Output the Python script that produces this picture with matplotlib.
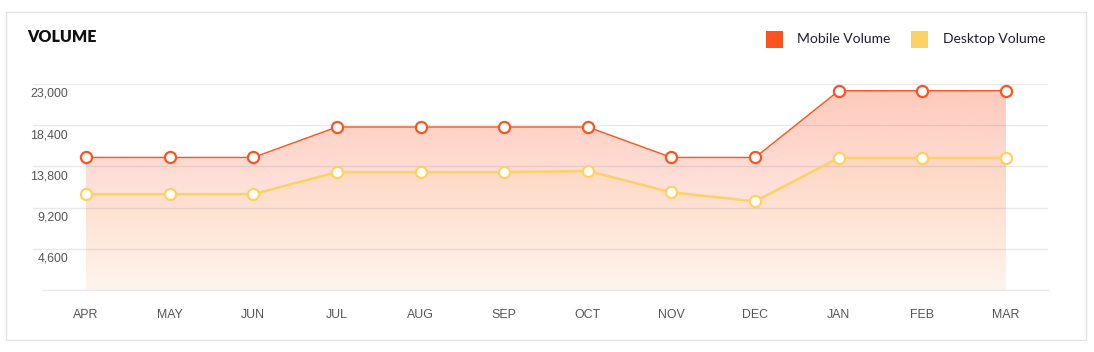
import numpy as np
import matplotlib
matplotlib.use("Agg")
import matplotlib.pyplot as plt
from matplotlib.patches import Rectangle
from matplotlib.transforms import ScaledTranslation

# data
months = ["APR", "MAY", "JUN", "JUL", "AUG", "SEP", "OCT", "NOV", "DEC", "JAN", "FEB", "MAR"]
mobile = [14800, 14800, 14800, 18200, 18200, 18200, 18200, 14800, 14800, 22250, 22250, 22250]
desktop = [10700, 10700, 10700, 13150, 13150, 13150, 13300, 10900, 9900, 14750, 14750, 14750]
yticks = [4600, 9200, 13800, 18400, 23000]

mobile_col = "#FC5420"
desktop_col = "#FDD264"

W, H = 1094, 352
fig = plt.figure(figsize=(W / 100, H / 100), dpi=100)
fig.patch.set_facecolor("white")

# card border
fig.patches.append(Rectangle((6 / W, (H - 340) / H), 1080 / W, 328 / H,
                             transform=fig.transFigure, facecolor="none",
                             edgecolor="#E4E4E8", lw=1))

# axes: x pixel 33..1048, y pixel 84 (23000) .. 290 (0)
ax = fig.add_axes([33 / W, (H - 290) / H, (1048 - 33) / W, (290 - 84) / H])
step = 83.64
x = np.arange(len(months))
ax.set_xlim((33 - 86) / step, (1048 - 86) / step)
ax.set_ylim(0, 23000)
for s in ax.spines.values():
    s.set_visible(False)
ax.set_yticks([])

# gridlines
for v in yticks:
    ax.axhline(v, color="#3c3c64", alpha=0.11, lw=1, zorder=3)
ax.plot([(43 - 86) / step, ax.get_xlim()[1]], [0, 0], color="#3c3c64", alpha=0.11,
        lw=1, zorder=3, clip_on=False)

# y labels (drawn under their gridline)
off = ScaledTranslation(0, -4 / 100, fig.dpi_scale_trans)
for v in yticks:
    ax.text((68 - 86) / step, v, f"{v:,}", ha="right", va="top", fontsize=8.9,
            color="#555555", family="Liberation Sans",
            transform=ax.transData + off)


def gradient_fill(vals, rgb, a_bot, a_top, z):
    poly = ax.fill_between(x, vals, 0, color="none", lw=0)
    grad = np.zeros((256, 1, 4))
    grad[:, 0, :3] = rgb
    grad[:, 0, 3] = np.linspace(a_bot, a_top, 256)
    im = ax.imshow(grad, extent=[x[0], x[-1], 0, 23000], origin="lower",
                   aspect="auto", zorder=z, interpolation="bilinear")
    im.set_clip_path(poly.get_paths()[0], transform=ax.transData)


gradient_fill(mobile, (252 / 255, 84 / 255, 40 / 255), 0.04, 0.32, 1)
gradient_fill(desktop, (255 / 255, 195 / 255, 110 / 255), 0.07, 0.17, 2)

ax.plot(x, mobile, color=mobile_col, lw=1, zorder=4, marker="o", ms=8,
        mfc="white", mec=mobile_col, mew=1.6, clip_on=False)
ax.plot(x, desktop, color=desktop_col, lw=1.8, zorder=4, marker="o", ms=8,
        mfc="white", mec=desktop_col, mew=1.6, clip_on=False)

ax.set_xticks(x)
ax.set_xticklabels(months, fontsize=8.9, color="#555555", family="Liberation Sans")
ax.tick_params(axis="x", length=0, pad=14)

# title
fig.text(27 / W, (H - 42) / H, "VOLUME", fontsize=11.5, fontweight="heavy",
         family="Lato", color="#111111", va="baseline")

# legend
for x0, col, lab, tx in [(766, mobile_col, "Mobile Volume", 797),
                         (911, desktop_col, "Desktop Volume", 943)]:
    fig.patches.append(Rectangle((x0 / W, (H - 48) / H), 17 / W, 17 / H,
                                 transform=fig.transFigure, facecolor=col, lw=0))
    fig.text(tx / W, (H - 43) / H, lab, fontsize=10, family="Lato",
             color="#1f1f30", va="baseline")

fig.savefig("out.png", dpi=100)
